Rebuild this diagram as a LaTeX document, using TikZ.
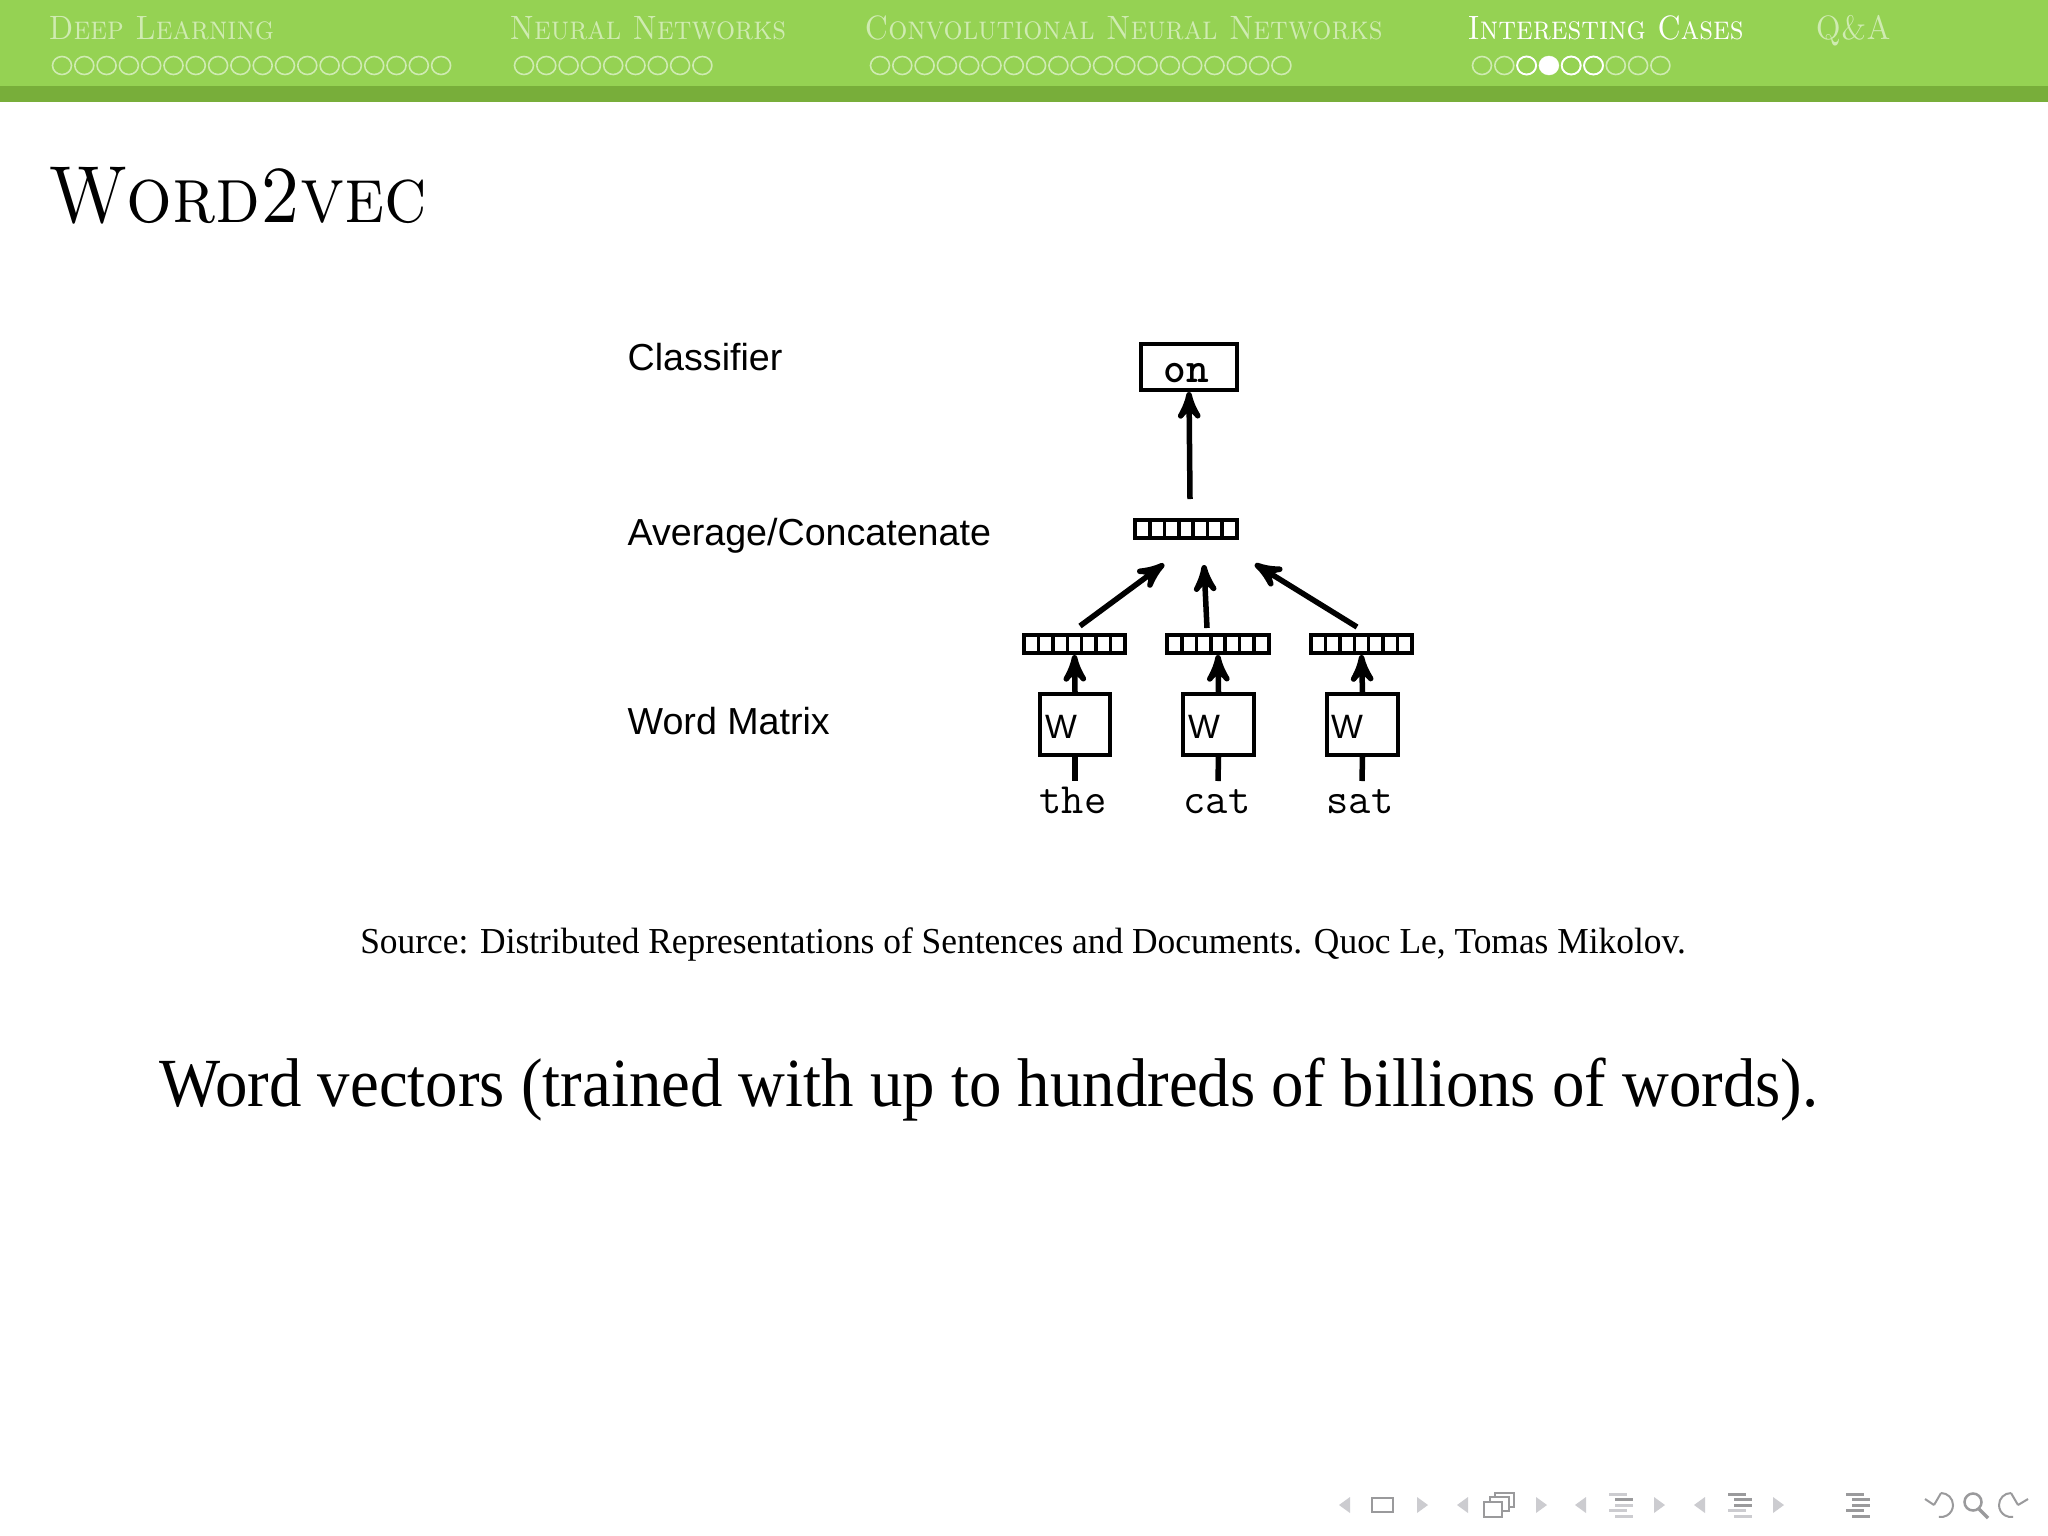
\documentclass[tikz,border=0pt]{standalone}
\usepackage{fontspec}
\newfontfamily\bodyfont{Liberation Serif}
\newfontfamily\labelfont{Liberation Sans}
\usetikzlibrary{arrows}
\definecolor{barlight}{HTML}{95D253}
\definecolor{bardark}{HTML}{78AE3A}
\definecolor{navlight}{HTML}{CCCCD0}
\definecolor{navdark}{HTML}{9A9A9C}
\colorlet{secfade}{white!55!barlight}
\tikzset{
  section/.style={anchor=base west, inner sep=0pt, font=\fontsize{9.6}{11}\selectfont},
  sidelabel/.style={anchor=base west, inner sep=0pt, font=\labelfont\fontsize{10.7}{12}\selectfont},
  wordlabel/.style={anchor=base, inner sep=0pt, font=\ttfamily\fontsize{12.3}{14}\selectfont},
  vecbox/.style={draw, line width=0.04cm, minimum width=1.01cm, minimum height=0.18cm, inner sep=0pt,
    path picture={\foreach \i in {1,...,6}
      \draw[line width=0.035cm] ([xshift=\i*1.01cm/7]path picture bounding box.south west) -- ([xshift=\i*1.01cm/7]path picture bounding box.north west);}},
  wbox/.style={draw, line width=0.04cm, minimum width=0.70cm, minimum height=0.60cm, inner sep=0pt},
  link/.style={line width=0.055cm},
  linkhead/.style={link, -stealth'},
}
\newcommand{\secname}[1]{\scalebox{0.89}[1]{\textsc{#1}}}
% one row of progress dots: first centre, count, colour
\newcommand{\dotrow}[3]{\foreach \k in {1,...,#2}
  \draw[#3, line width=0.016cm] (#1+22.3*\k-22.3,65.5) ellipse (0.095cm and 0.09cm);}
\newcommand{\navleft}[1]{\fill[navlight] (#1,1505) -- (#1+11,1497) -- (#1+11,1513) -- cycle;}
\newcommand{\navright}[1]{\fill[navlight] (#1+11,1505) -- (#1,1497) -- (#1,1513) -- cycle;}
\newcommand{\navbar}[3]{\fill[#3] (#1,#2-1.5) rectangle ++(17.5,3);}
\newcommand{\navlines}[6]{
  \navbar{#1}{1494}{#2} \navbar{#1+6}{1499.5}{#3} \navbar{#1+6}{1505}{#4}
  \navbar{#1}{1510.5}{#5} \navbar{#1+6}{1516}{#6}}

\begin{document}
\begin{tikzpicture}[x=0.01cm,y=-0.01cm]
  \useasboundingbox (0,0) rectangle (2048,1536);
  \fill[white] (0,0) rectangle (2048,1536);
  % header
  \fill[barlight] (0,0) rectangle (2048,86);
  \fill[bardark] (0,86) rectangle (2048,102);
  \node[section, text=secfade] (sec1) at (48,39) {\secname{Deep Learning}};
  \node[section, text=secfade] (sec2) at (509,39) {\secname{Neural Networks}};
  \node[section, text=secfade] (sec3) at (864,39) {\secname{Convolutional Neural Networks}};
  \node[section, text=white] (sec4) at (1467,39) {\secname{Interesting Cases}};
  \node[section, text=secfade] (sec5) at (1815,39) {\secname{Q\&A}};
  \dotrow{62}{18}{secfade}
  \dotrow{524}{9}{secfade}
  \dotrow{880}{19}{secfade}
  \dotrow{1482}{9}{secfade}
  \foreach \k in {3,5,6} \draw[white, line width=0.018cm] (1482+22.3*\k-22.3,65.5) ellipse (0.095cm and 0.09cm);
  \fill[white] (1482+22.3*3,65.5) ellipse (0.10cm and 0.095cm);

  % title and text
  \node[anchor=base west, inner sep=0pt, font=\fontsize{23}{26}\selectfont] (title) at (48,222) {\scalebox{0.89}[1]{\textsc{Word2vec}}};
  \node[anchor=base, inner sep=0pt, font=\bodyfont\fontsize{10.4}{12}\selectfont] (source) at (1023,953)
    {\scalebox{0.968}[1]{Source: Distributed Representations of Sentences and Documents. Quoc Le, Tomas Mikolov.}};
  \node[anchor=base, inner sep=0pt, font=\bodyfont\fontsize{19.6}{22}\selectfont] (caption) at (989,1106)
    {\scalebox{0.94}[1]{Word vectors (trained with up to hundreds of billions of words).}};

  % diagram
  \node[sidelabel] (classifier) at (627,370) {Classifier};
  \node[sidelabel] (average) at (627,545) {Average/Concatenate};
  \node[sidelabel] (matrix) at (627,734) {Word Matrix};

  \node[draw, line width=0.04cm, minimum width=0.95cm, minimum height=0.46cm, inner sep=0pt] (onbox) at (1189,367) {};
  \node[anchor=base, inner sep=0pt, font=\ttfamily\bfseries\fontsize{12.3}{14}\selectfont\addfontfeature{FakeBold=4}] (on) at (1186,382) {on};
  \node[vecbox] (vecavg) at (1186,529) {};
  \node[vecbox] (vec1) at (1074.5,644) {};
  \node[vecbox] (vec2) at (1218,644) {};
  \node[vecbox] (vec3) at (1361.5,644) {};
  \node[wbox] (w1) at (1075,724.5) {};
  \node[wbox] (w2) at (1218.5,724.5) {};
  \node[wbox] (w3) at (1362.5,724.5) {};
  \node[inner sep=0pt, font=\labelfont\fontsize{9.6}{11}\selectfont] (wl1) at (1061,727) {W};
  \node[inner sep=0pt, font=\labelfont\fontsize{9.6}{11}\selectfont] (wl2) at (1204,727) {W};
  \node[inner sep=0pt, font=\labelfont\fontsize{9.6}{11}\selectfont] (wl3) at (1347,727) {W};
  \node[wordlabel] (the) at (1073,813) {the};
  \node[wordlabel] (cat) at (1217,813) {cat};
  \node[wordlabel] (sat) at (1360,813) {sat};

  \coordinate (up0) at (1190,499);
  \coordinate (in1) at (1164,564);
  \coordinate (in2) at (1204,565);
  \coordinate (in3) at (1255,564);
  \coordinate (out1) at (1080,626);
  \coordinate (out2) at (1207,628);
  \coordinate (out3) at (1357,627);
  \coordinate (stub1) at (1075,781);
  \coordinate (stub2) at (1218,781);
  \coordinate (stub3) at (1362,781);

  \path[linkhead]
  (up0) edge (onbox.south)
  (out1) edge (in1)
  (out2) edge (in2)
  (out3) edge (in3)
  (w1.north) edge (vec1.south)
  (w2.north) edge (vec2.south)
  (w3.north) edge (vec3.south)
  ;
  \path[link]
  (w1.south) edge (stub1)
  (w2.south) edge (stub2)
  (w3.south) edge (stub3)
  ;

  % navigation symbols
  \navleft{1339} \draw[navdark, line width=0.025cm] (1372,1498) rectangle (1393,1512); \navright{1417}
  \navleft{1457}
  \draw[navdark, line width=0.02cm, fill=white] (1495,1493) rectangle (1514,1507);
  \draw[navdark, line width=0.02cm, fill=white] (1490,1497) rectangle (1509,1511);
  \draw[navdark, line width=0.025cm, fill=white] (1484,1502) rectangle (1502,1517);
  \navright{1536}
  \navleft{1575} \navlines{1609}{navlight}{navdark}{navlight}{navlight}{navlight} \navright{1654}
  \navleft{1694} \navlines{1728}{navdark}{navdark}{navdark}{navlight}{navlight} \navright{1773}
  \navlines{1846}{navdark}{navdark}{navdark}{navdark}{navdark}
  \draw[navdark, line width=0.02cm] (1941,1493) arc (90:-100:0.12cm);
  \draw[navdark, line width=0.02cm] (1941,1493) -- (1934,1505) (1934,1505) -- (1925,1499);
  \draw[navdark, line width=0.025cm] (1973,1502) circle (0.085cm);
  \draw[navdark, line width=0.035cm] (1979,1509) -- (1988,1518);
  \draw[navdark, line width=0.02cm] (2011,1493) arc (90:280:0.12cm);
  \draw[navdark, line width=0.02cm] (2011,1493) -- (2018,1505) (2018,1505) -- (2028,1499);
\end{tikzpicture}
\end{document}
